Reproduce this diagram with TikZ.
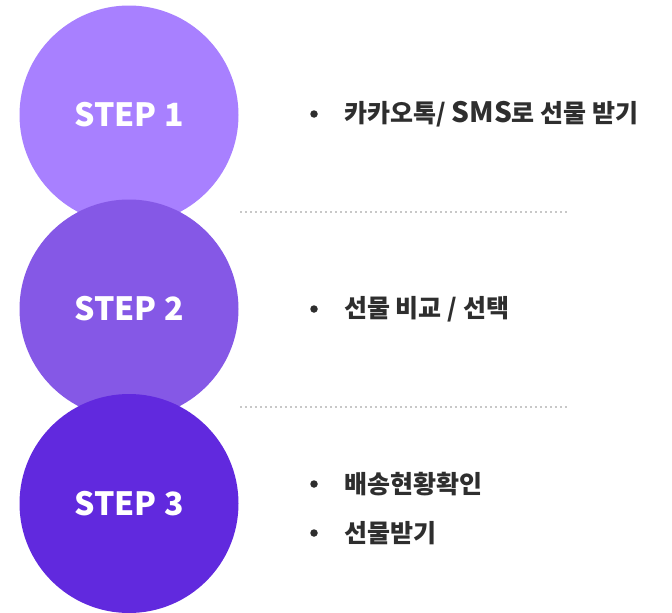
\documentclass[tikz,border=0pt]{standalone}
\usepackage{fontspec}
\setmainfont{Noto Sans CJK KR}

\definecolor{stepone}{HTML}{A880FF}
\definecolor{steptwo}{HTML}{8558E6}
\definecolor{stepthree}{HTML}{6129DE}
\definecolor{itemgray}{HTML}{2E2E2E}
\definecolor{dotgray}{HTML}{C8C8C8}

\tikzset{
  stepcircle/.style={circle, minimum size=219pt, inner sep=0pt, text=white,
    font=\bfseries\fontsize{32}{32}\selectfont},
  itemtext/.style={anchor=west, inner sep=0pt, text=itemgray,
    font=\bfseries\fontsize{25}{25}\selectfont},
  itembullet/.style={circle, fill=itemgray, minimum size=7.5pt, inner sep=0pt},
  dotline/.style={dotgray, line width=2pt, dash pattern=on 2pt off 3pt}
}

\begin{document}
\begin{tikzpicture}[x=1pt, y=-1pt]
    \useasboundingbox (0,0) rectangle (672,613);

    % steps
    \node[stepcircle, fill=stepone] (s1) at (129,115){STEP 1};
    \node[stepcircle, fill=steptwo] (s2) at (129,309){STEP 2};
    \node[stepcircle, fill=stepthree] (s3) at (129,503.5){STEP 3};

    % separators
    \coordinate (l1a) at (240,212);
    \coordinate (l1b) at (568,212);
    \coordinate (l2a) at (240,407);
    \coordinate (l2b) at (568,407);
    \draw[dotline] (l1a) -- (l1b);
    \draw[dotline] (l2a) -- (l2b);

    % items
    \node[itembullet] (b1) at (314,114){};
    \node[itemtext] (t1) at (344,114){카카오톡/ {\fontsize{28}{28}\selectfont SMS}로 선물 받기};

    \node[itembullet] (b2) at (314,309){};
    \node[itemtext] (t2) at (344,309){선물 비교 / 선택};

    \node[itembullet] (b3) at (314,484){};
    \node[itemtext] (t3) at (344,484){배송현황확인};

    \node[itembullet] (b4) at (314,533){};
    \node[itemtext] (t4) at (344,533){선물받기};
  \end{tikzpicture}
\end{document}
